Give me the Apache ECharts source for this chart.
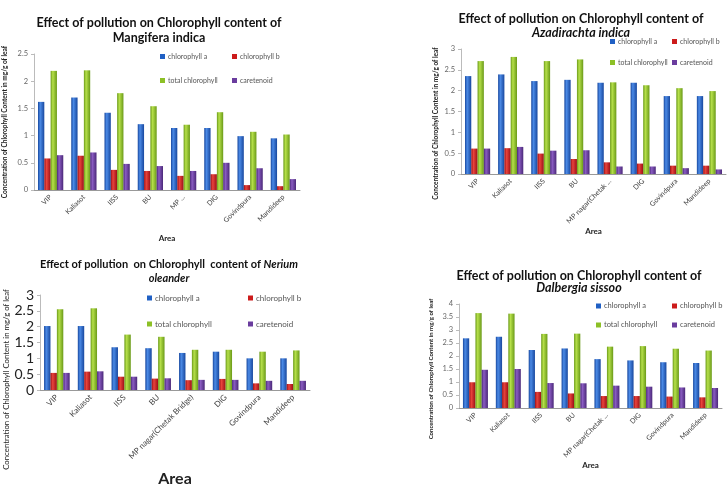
<!DOCTYPE html>
<html>
<head>
<meta charset="utf-8">
<script src="https://cdn.jsdelivr.net/npm/echarts@6/dist/echarts.min.js"></script>
<style>
  html, body { margin: 0; padding: 0; background: #fff; }
  #main { width: 728px; height: 488px; }
</style>
</head>
<body>
<div id="main"></div>
<script>
// areas sampled
var areas = ['VIP', 'Kaliasot', 'IISS', 'BU', 'MP nagar(Chetak Bridge)', 'DIG', 'Govindpura', 'Mandideep'];
var ticksMangifera = ['VIP', 'Kaliasot', 'IISS', 'BU', 'MP ...', 'DIG', 'Govindpura', 'Mandideep'];
var ticksShort = ['VIP', 'Kaliasot', 'IISS', 'BU', 'MP nagar(Chetak ...', 'DIG', 'Govindpura', 'Mandideep'];
var ticksNerium = areas;

var seriesNames = ['chlorophyll a', 'chlorophyll b', 'total chlorophyll', 'caretenoid'];

// Mangifera indica
var mangiferaChlA  = [1.62, 1.70, 1.42, 1.21, 1.14, 1.14, 0.99, 0.95];
var mangiferaChlB  = [0.58, 0.63, 0.37, 0.35, 0.26, 0.29, 0.09, 0.07];
var mangiferaTotal = [2.19, 2.20, 1.78, 1.54, 1.20, 1.43, 1.07, 1.02];
var mangiferaCar   = [0.64, 0.69, 0.48, 0.44, 0.35, 0.50, 0.40, 0.20];

// Azadirachta indica
var azadChlA  = [2.35, 2.39, 2.23, 2.26, 2.19, 2.19, 1.87, 1.87];
var azadChlB  = [0.61, 0.62, 0.49, 0.36, 0.28, 0.25, 0.20, 0.20];
var azadTotal = [2.71, 2.81, 2.71, 2.75, 2.20, 2.13, 2.06, 1.99];
var azadCar   = [0.61, 0.65, 0.56, 0.57, 0.18, 0.18, 0.14, 0.11];

// Nerium oleander
var neriumChlA  = [2.02, 2.02, 1.35, 1.32, 1.17, 1.21, 1.00, 1.00];
var neriumChlB  = [0.54, 0.58, 0.42, 0.36, 0.31, 0.35, 0.21, 0.19];
var neriumTotal = [2.55, 2.58, 1.75, 1.68, 1.27, 1.27, 1.21, 1.25];
var neriumCar   = [0.54, 0.59, 0.42, 0.37, 0.32, 0.32, 0.29, 0.29];

// Dalbergia sissoo
var dalbChlA  = [2.68, 2.74, 2.23, 2.29, 1.88, 1.83, 1.76, 1.73];
var dalbChlB  = [0.99, 0.99, 0.62, 0.56, 0.46, 0.46, 0.44, 0.41];
var dalbTotal = [3.65, 3.63, 2.85, 2.86, 2.36, 2.38, 2.28, 2.21];
var dalbCar   = [1.47, 1.50, 0.96, 0.95, 0.86, 0.82, 0.79, 0.77];

var FONT = 'Lato, "Open Sans", sans-serif';

function bar3d(dark, light) {
  return new echarts.graphic.LinearGradient(0, 0, 1, 0, [
    { offset: 0, color: dark },
    { offset: 0.35, color: light },
    { offset: 1, color: dark }
  ]);
}
var fills = [
  bar3d('#17479e', '#4b8ae6'),
  bar3d('#9c0f16', '#e8443c'),
  bar3d('#6a9a18', '#b6e04a'),
  bar3d('#4a2878', '#8a5cc2')
];
var legendColors = ['#2060c4', '#cc1b1b', '#8cc026', '#6a3c9e'];

// title centre x, legend columns/rows in px
var panels = [
  {
    title: 'Effect of pollution on Chlorophyll content of\nMangifera indica',
    titleX: 154, titleTop: 10, titleSize: 12.5, lineHeight: 15,
    grid: { left: 32, top: 54, width: 268, height: 136 },
    max: 2.5, ticks: ticksMangifera,
    data: [mangiferaChlA, mangiferaChlB, mangiferaTotal, mangiferaCar],
    legX: [160, 232], legY: [58, 82], legSize: 7,
    yName: 6.5, yGap: 26, yPad: [0, 0, 0, 0], yBold: 'bold', tickSize: 7.5, tickColor: '#666',
    xSize: 7, areaSize: 8, areaGap: 44
  },
  {
    title: 'Effect of pollution on Chlorophyll content of\n{i|Azadirachta indica}',
    titleX: 576, titleTop: 7, titleSize: 12.5, lineHeight: 14,
    grid: { left: 461, top: 49, width: 265, height: 125 },
    max: 3, ticks: ticksShort,
    data: [azadChlA, azadChlB, azadTotal, azadCar],
    legX: [610, 672], legY: [43, 64], legSize: 7,
    yName: 6.5, yGap: 22, yPad: [0, 24, 0, 0], yBold: 'bold', tickSize: 7.5, tickColor: '#666',
    xSize: 7, areaSize: 8, areaGap: 47
  },
  {
    title: 'Effect of pollution  on Chlorophyll  content of {i|Nerium}\n{i|oleander}',
    titleX: 164, titleTop: 252, titleSize: 11, lineHeight: 14,
    grid: { left: 40, top: 295, width: 270, height: 106 },
    max: 3, ticks: ticksNerium,
    data: [neriumChlA, neriumChlB, neriumTotal, neriumCar],
    legX: [147, 248], legY: [299, 325], legSize: 8,
    yName: 7.8, yGap: 30, yPad: [0, 74, 0, 0], yBold: 'normal', tickSize: 14, tickColor: '#222',
    xSize: 8, areaSize: 16, areaGap: 81
  },
  {
    title: 'Effect of pollution on Chlorophyll content of\n{i|Dalbergia sissoo}',
    titleX: 574, titleTop: 265, titleSize: 12.5, lineHeight: 12,
    grid: { left: 459, top: 304, width: 263, height: 104 },
    max: 4, ticks: ticksShort,
    data: [dalbChlA, dalbChlB, dalbTotal, dalbCar],
    legX: [596, 672], legY: [307, 326], legSize: 7.5,
    yName: 6, yGap: 25, yPad: [0, 26, 0, 0], yBold: 'bold', tickSize: 7.5, tickColor: '#666',
    xSize: 7, areaSize: 8, areaGap: 48
  }
];

var option = {
  backgroundColor: '#fff',
  animation: false,
  textStyle: { fontFamily: FONT },
  title: [], legend: [], grid: [], xAxis: [], yAxis: [], series: []
};

panels.forEach(function (p, k) {
  option.title.push({
    text: p.title,
    left: p.titleX, top: p.titleTop, textAlign: 'center',
    textStyle: {
      fontFamily: FONT, fontSize: p.titleSize, fontWeight: 'bold', color: '#111',
      lineHeight: p.lineHeight,
      rich: { i: { fontFamily: FONT, fontSize: p.titleSize, fontWeight: 'bold', fontStyle: 'italic', color: '#111', lineHeight: p.lineHeight } }
    }
  });
  option.grid.push(p.grid);
  option.xAxis.push({
    type: 'category', gridIndex: k, data: p.ticks,
    name: 'Area', nameLocation: 'middle', nameGap: p.areaGap,
    nameTextStyle: { fontFamily: FONT, fontSize: p.areaSize, fontWeight: 'bold', color: '#222' },
    axisLine: { lineStyle: { color: '#999' } },
    axisTick: { show: false },
    axisLabel: { rotate: 45, interval: 0, fontSize: p.xSize, color: '#444', margin: 6 }
  });
  option.yAxis.push({
    type: 'value', gridIndex: k, min: 0, max: p.max, interval: 0.5,
    name: 'Concentration of Chlorophyll Content in mg/g of leaf',
    nameLocation: 'middle', nameGap: p.yGap,
    nameTextStyle: { fontFamily: FONT, fontSize: p.yName, fontWeight: p.yBold, color: '#222', padding: p.yPad },
    splitLine: { show: false },
    axisLine: { show: true, lineStyle: { color: '#bbb' } },
    axisTick: { show: true, length: 3, lineStyle: { color: '#bbb' } },
    axisLabel: { fontSize: p.tickSize, color: p.tickColor, margin: 6 }
  });
  p.data.forEach(function (vals, s) {
    option.series.push({
      name: seriesNames[s], type: 'bar', xAxisIndex: k, yAxisIndex: k,
      data: vals, barGap: '0%', barCategoryGap: '24%',
      itemStyle: { color: fills[s] }
    });
    option.legend.push({
      data: [{ name: seriesNames[s], itemStyle: { color: legendColors[s] } }],
      left: p.legX[s % 2], top: p.legY[Math.floor(s / 2)] - 5,
      icon: 'rect', itemWidth: 5, itemHeight: 5, itemGap: 0, padding: 0,
      textStyle: { fontFamily: FONT, fontSize: p.legSize, color: '#555', padding: [0, 0, 0, -2] }
    });
  });
});

var chart = echarts.init(document.getElementById('main'));
chart.setOption(option);
</script>
</body>
</html>
